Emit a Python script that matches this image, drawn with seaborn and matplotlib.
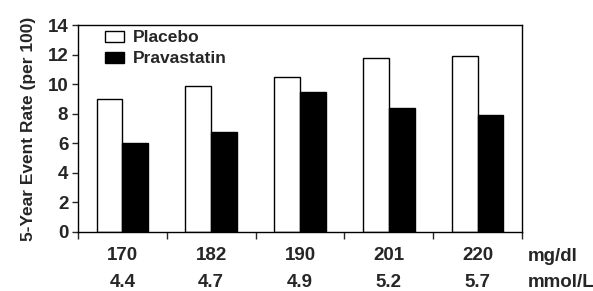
import matplotlib
matplotlib.use("Agg")
import matplotlib.pyplot as plt
import matplotlib.transforms as mtransforms
import seaborn as sns
import pandas as pd

# data
chol_mg = ["170", "182", "190", "201", "220"]
chol_mmol = ["4.4", "4.7", "4.9", "5.2", "5.7"]
placebo = [9.0, 9.9, 10.5, 11.8, 11.9]
pravastatin = [6.05, 6.75, 9.45, 8.4, 7.9]
groups = ["Placebo", "Pravastatin"]

df = pd.DataFrame({
    "chol": chol_mg * 2,
    "rate": placebo + pravastatin,
    "group": [groups[0]] * 5 + [groups[1]] * 5,
})

sns.set_style("white")
plt.rcParams["font.family"] = ["Liberation Sans", "DejaVu Sans"]
plt.rcParams["font.weight"] = "bold"

fig = plt.figure(figsize=(5.93, 2.91), dpi=100)
ax = fig.add_axes([0.1315, 0.203, 0.749, 0.711])

sns.barplot(data=df, x="chol", y="rate", hue="group", order=chol_mg,
            hue_order=groups, palette=["white", "black"], edgecolor="black",
            linewidth=1.0, width=0.58, ax=ax)

ax.set_ylim(0, 14)
ax.set_xlim(-0.5, len(chol_mg) - 0.5)
ax.set_yticks(range(0, 15, 2))
ax.tick_params(axis="y", labelsize=13.5, length=4, width=1, direction="out", left=True, pad=3)

# boundary ticks on x, labels at group centres
ax.set_xticks([i - 0.5 for i in range(len(chol_mg) + 1)])
ax.set_xticklabels([])
ax.set_xticks(range(len(chol_mg)), minor=True)
ax.set_xticklabels(chol_mg, minor=True)
ax.tick_params(axis="x", which="major", length=5, width=1, direction="out", bottom=True)
ax.tick_params(axis="x", which="minor", length=0, labelsize=13.5, pad=11)

trans = mtransforms.blended_transform_factory(ax.transData, ax.transAxes)
for i, lab in enumerate(chol_mmol):
    ax.text(i, -0.245, lab, transform=trans, ha="center", va="center",
            fontsize=13.5, fontweight="bold")
ax.text(1.012, -0.12, "mg/dl", transform=ax.transAxes, ha="left", va="center",
        fontsize=13.5, fontweight="bold")
ax.text(1.012, -0.245, "mmol/L", transform=ax.transAxes, ha="left", va="center",
        fontsize=13.5, fontweight="bold")

for s in ax.spines.values():
    s.set_visible(True)
    s.set_color("black")
    s.set_linewidth(1.0)

ax.set_xlabel("")
ax.set_ylabel("5-Year Event Rate (per 100)", fontsize=12.5, fontweight="bold", labelpad=8)

leg = ax.legend(loc="upper left", frameon=False, fontsize=12.5, handlelength=1.1,
                handleheight=0.6, handletextpad=0.5, labelspacing=0.35,
                borderaxespad=0.2, bbox_to_anchor=(0.037, 1.025))

fig.savefig("out.png", dpi=100)
